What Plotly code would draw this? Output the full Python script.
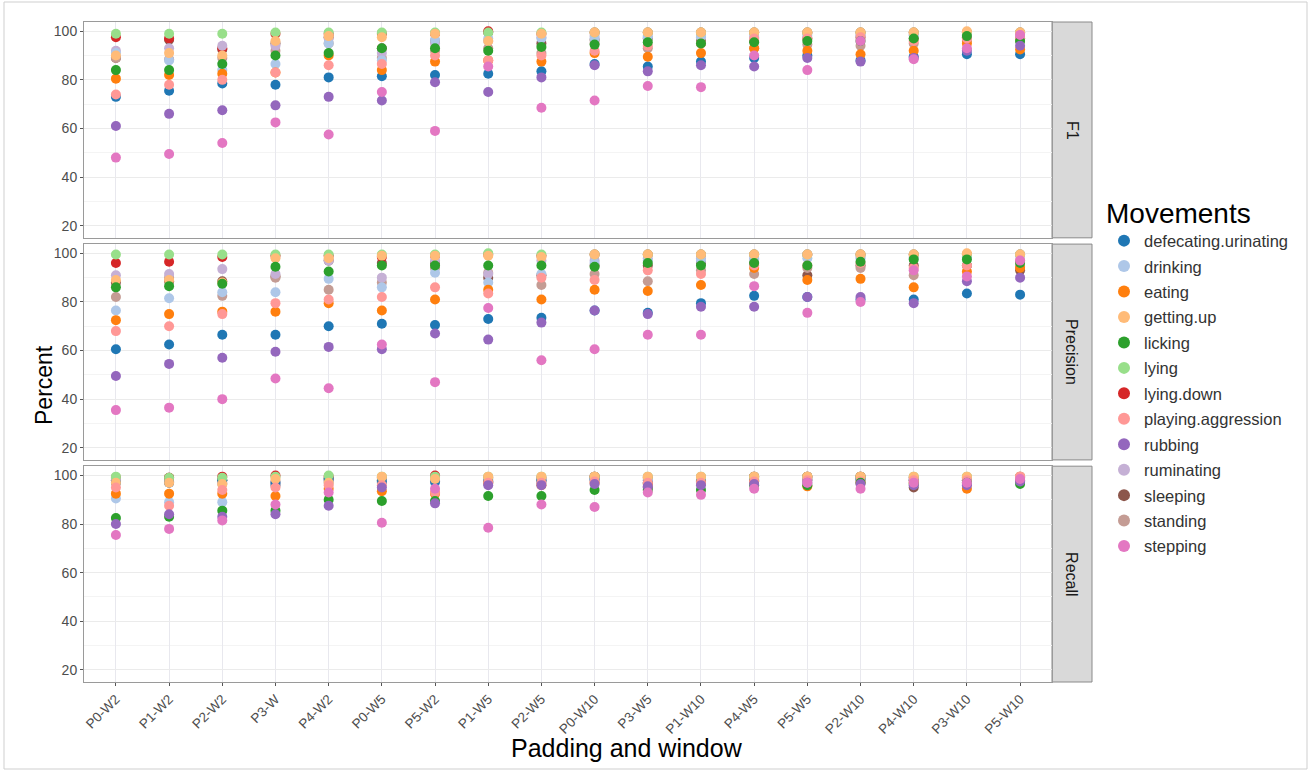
import plotly.graph_objects as go
from plotly.subplots import make_subplots

categories = ["P0-W2", "P1-W2", "P2-W2", "P3-W", "P4-W2", "P0-W5", "P5-W2", "P1-W5", "P2-W5",
              "P0-W10", "P3-W5", "P1-W10", "P4-W5", "P5-W5", "P2-W10", "P4-W10", "P3-W10", "P5-W10"]

movements = ["defecating.urinating", "drinking", "eating", "getting.up", "licking", "lying",
             "lying.down", "playing.aggression", "rubbing", "ruminating", "sleeping", "standing", "stepping"]

colors = ["#1f77b4", "#aec7e8", "#ff7f0e", "#ffbb78", "#2ca02c", "#98df8a",
          "#d62728", "#ff9896", "#9467bd", "#c5b0d5", "#8c564b", "#c49c94", "#e377c2"]

facets = ["F1", "Precision", "Recall"]

# ---- F1 ----
f1_defecating = [73, 75.5, 78.5, 78, 81, 81.5, 82, 82.5, 83.5, 86.5, 85.5, 87.5, 89, 90, 88, 89.5, 90.5, 90.5]
f1_drinking = [91, 88, 84, 86.5, 95, 88, 96.5, 97, 97, 97, 97.5, 97.5, 97.5, 98, 98, 98.5, 98.5, 99]
f1_eating = [80.5, 82, 82.5, 83, 90, 84, 87.5, 88, 87.5, 91, 89.5, 91, 93, 92, 90.5, 92, 95, 92.5]
f1_getting_up = [90, 91, 90, 96, 98, 97.5, 99, 96, 99, 99.5, 99.5, 99.5, 99.5, 99.5, 99.5, 99.5, 100, 99.5]
f1_licking = [84, 84, 86.5, 90, 91, 93, 93, 92, 93.5, 94.5, 95.5, 95, 95.5, 96, 96, 97, 98, 96]
f1_lying = [99, 99, 99, 99.5, 99.5, 99.5, 99.5, 99.5, 99.5, 99.5, 99.5, 99.5, 99.5, 99.5, 99.5, 99.5, 99.5, 99.5]
f1_lying_down = [97.5, 97, 93, 99, 99, 99, 99, 100, 99, 99.5, 99.5, 99.5, 99.5, 99.5, 99.5, 99.5, 99.5, 99.5]
f1_playing = [74, 78, 80, 83, 86, 86.5, 90, 88, 90, 92, 94, 95, 97, 97, 97.5, 96, 97, 97]
f1_rubbing = [61, 66, 67.5, 69.5, 73, 71.5, 79, 75, 81, 86, 83.5, 86, 85.5, 89, 87.5, 89, 92, 94]
f1_ruminating = [92, 93, 94, 94, 97, 91, 95, 96, 97.5, 98, 98, 98, 98, 99, 98.5, 98.5, 98.5, 99]
f1_sleeping = [89, 96.5, 92.5, 95, 97.5, 93, 96, 99.5, 95, 96.5, 97, 96, 96, 97, 97.5, 97, 97.5, 97]
f1_standing = [89, 88.5, 89, 92, 95, 89, 92, 93, 91, 95, 93, 95, 93, 94.5, 94, 95, 96, 96]
f1_stepping = [48, 49.5, 54, 62.5, 57.5, 75, 59, 85.5, 68.5, 71.5, 77.5, 77, 90, 84, 96, 88.5, 93, 98.5]

# ---- Precision ----
pr_defecating = [60.5, 62.5, 66.5, 66.5, 70, 71, 70.5, 73, 73.5, 76.5, 75.5, 79.5, 82.5, 82, 81, 81, 83.5, 83]
pr_drinking = [76.5, 81.5, 84, 84, 89.5, 86, 92, 88, 91.5, 96, 97, 97, 97.5, 98, 98, 98, 98.5, 99]
pr_eating = [72.5, 75, 76, 76, 79.5, 76.5, 81, 85, 81, 85, 84.5, 87, 94, 89, 89.5, 86, 92.5, 94]
pr_getting_up = [89, 89, 88, 98, 98, 99, 99, 99, 98.5, 99.5, 99.5, 99.5, 99.5, 99.5, 99.5, 99.5, 100, 99.5]
pr_licking = [86, 86.5, 87.5, 94.5, 92.5, 95, 95, 95, 95, 94.5, 96, 95, 96, 95, 96.5, 97.5, 97.5, 96]
pr_lying = [99.5, 99.5, 99.5, 99.5, 99.5, 99.5, 99.5, 100, 99.5, 99.5, 99.5, 99.5, 99.5, 99.5, 99.5, 99.5, 99.5, 99.5]
pr_lying_down = [96, 96.5, 98.5, 99, 99, 98.5, 99, 99.5, 99, 99.5, 99.5, 99.5, 99.5, 99.5, 99.5, 99.5, 99.5, 99.5]
pr_playing = [68, 70, 75, 79.5, 81, 82, 86, 83.5, 90, 89, 93, 91.5, 95, 95, 96, 94, 95, 97]
pr_rubbing = [49.5, 54.5, 57, 59.5, 61.5, 60.5, 67, 64.5, 71.5, 76.5, 75, 78, 78, 82, 82, 79.5, 88.5, 90]
pr_ruminating = [91, 91.5, 93.5, 91.5, 97, 90, 97, 91.5, 97, 97, 98, 98, 98, 99.5, 98.5, 98.5, 98.5, 99.5]
pr_sleeping = [88, 88.5, 88.5, 90.5, 97, 96, 96, 90, 91, 95, 95, 96, 96, 91, 95, 95, 95, 93]
pr_standing = [82, 90, 82.5, 90, 85, 88, 94, 92, 87, 91.5, 88.5, 93, 91.5, 94, 94, 91, 95, 94.5]
pr_stepping = [35.5, 36.5, 40, 48.5, 44.5, 62.5, 47, 77.5, 56, 60.5, 66.5, 66.5, 86.5, 75.5, 80, 93, 90.5, 97]

# ---- Recall ----
re_defecating = [97, 97, 98, 97, 98.5, 97.5, 97.5, 97.5, 98, 98.5, 97, 97.5, 98, 98, 98.5, 98, 98, 99]
re_drinking = [90.5, 89, 89, 96, 97, 97, 97, 98.5, 97, 98, 98, 98, 98.5, 99, 98.5, 98.5, 98.5, 99]
re_eating = [92.5, 92.5, 92.5, 91.5, 94.5, 93.5, 92.5, 97, 96, 97, 96.5, 97, 97.5, 95.5, 97, 97, 94.5, 98.5]
re_getting_up = [97, 97, 96.5, 98.5, 97, 99.5, 98.5, 99.5, 99.5, 99.5, 99.5, 99.5, 99.5, 99.5, 99.5, 99.5, 99.5, 99.5]
re_licking = [82.5, 83, 85.5, 85.5, 90, 89.5, 89.5, 91.5, 91.5, 94, 94, 94, 96, 96, 97, 96.5, 97, 96.5]
re_lying = [99.5, 99, 99, 99.5, 100, 99.5, 99.5, 99.5, 99.5, 99.5, 99.5, 99.5, 99.5, 99.5, 99.5, 99.5, 99.5, 99.5]
re_lying_down = [99, 99, 99.5, 100, 99.5, 99, 100, 99, 99, 99.5, 99, 99, 99.5, 99.5, 99.5, 99, 99, 99.5]
re_playing = [95, 87.5, 94, 95, 96, 96, 93, 97, 97, 97.5, 97, 97, 97.5, 98, 97.5, 98, 98, 99.5]
re_rubbing = [80, 84, 83, 84, 87.5, 95, 88.5, 96, 96, 96.5, 95.5, 96, 96.5, 97, 96.5, 96, 96, 97.5]
re_ruminating = [98, 97, 97, 97, 98, 98, 98, 98, 98.5, 98.5, 98, 98.5, 98.5, 98.5, 98.5, 98.5, 98.5, 99]
re_sleeping = [98, 99, 98, 96, 98.5, 98, 99, 97, 97.5, 99.5, 95, 97, 99.5, 99.5, 99.5, 95, 96.5, 98]
re_standing = [98.5, 97.5, 96.5, 97.5, 97.5, 97, 97.5, 97.5, 98, 98, 97, 97.5, 98.5, 98.5, 98, 98, 98, 98.5]
re_stepping = [75.5, 78, 81.5, 88, 93, 80.5, 94.5, 78.5, 88, 87, 93, 92, 94.5, 97, 94.5, 97, 97, 98.5]

f1_values = [f1_defecating, f1_drinking, f1_eating, f1_getting_up, f1_licking, f1_lying, f1_lying_down,
             f1_playing, f1_rubbing, f1_ruminating, f1_sleeping, f1_standing, f1_stepping]
pr_values = [pr_defecating, pr_drinking, pr_eating, pr_getting_up, pr_licking, pr_lying, pr_lying_down,
             pr_playing, pr_rubbing, pr_ruminating, pr_sleeping, pr_standing, pr_stepping]
re_values = [re_defecating, re_drinking, re_eating, re_getting_up, re_licking, re_lying, re_lying_down,
             re_playing, re_rubbing, re_ruminating, re_sleeping, re_standing, re_stepping]
facet_values = [f1_values, pr_values, re_values]

# drawing order (bottom to top); legend keeps the alphabetical order via legendrank
draw_order = [10, 6, 11, 9, 1, 0, 2, 5, 3, 7, 4, 8, 12]

FONT = "Liberation Sans, Arial, sans-serif"

fig = make_subplots(rows=3, cols=1, shared_xaxes=True, vertical_spacing=0.0095)

for r, vals in enumerate(facet_values, start=1):
    for i in draw_order:
        name = movements[i]
        fig.add_trace(go.Scatter(
            x=categories, y=vals[i], mode="markers", name=name,
            legendgroup=name, showlegend=(r == 1), legendrank=100 + i,
            marker=dict(color=colors[i], size=10, line=dict(width=0)),
        ), row=r, col=1)

for r in range(1, 4):
    fig.update_yaxes(
        range=[15, 103.8], tickvals=[20, 40, 60, 80, 100],
        showgrid=True, gridcolor="#EBEBEB", gridwidth=1,
        minor=dict(tickvals=[30, 50, 70, 90], showgrid=True, gridcolor="#F4F4F4", ticklen=0),
        ticks="outside", ticklen=3, tickcolor="#555555",
        tickfont=dict(family=FONT, size=14, color="#4D4D4D"),
        showline=True, linecolor="#9A9A9A", linewidth=1, mirror=True,
        zeroline=False, row=r, col=1)
    fig.update_xaxes(
        type="category", categoryorder="array", categoryarray=categories,
        range=[-0.6, 17.6], showgrid=True, gridcolor="#E8E8EE", gridwidth=1,
        showline=True, linecolor="#9A9A9A", linewidth=1, mirror=True,
        zeroline=False, row=r, col=1)

fig.update_xaxes(ticks="outside", ticklen=3, tickcolor="#555555", tickangle=-45,
                 tickfont=dict(family=FONT, size=13.5, color="#4D4D4D"), row=3, col=1)

# facet strips
strip_x1 = (1092 - 84) / 968
shapes = []
annotations = []
for r, name in enumerate(facets, start=1):
    dom = fig.layout[f"yaxis{'' if r == 1 else r}"].domain
    shapes.append(dict(type="rect", xref="paper", yref="paper", x0=1.0, x1=strip_x1,
                       y0=dom[0], y1=dom[1], fillcolor="#D9D9D9",
                       line=dict(color="#8A8A8A", width=1), layer="below"))
    annotations.append(dict(text=name, xref="paper", yref="paper", x=(1.0 + strip_x1) / 2,
                            y=(dom[0] + dom[1]) / 2, showarrow=False, textangle=90,
                            xanchor="center", yanchor="middle",
                            font=dict(family=FONT, size=16, color="#1A1A1A")))

# outer frame
shapes.append(dict(type="rect", xref="paper", yref="paper",
                   x0=(4 - 84) / 968, x1=(1307 - 84) / 968,
                   y0=(682 - 769) / 660, y1=(682 - 2) / 660,
                   line=dict(color="#CFCFCF", width=1), fillcolor="rgba(0,0,0,0)", layer="below"))

annotations.append(dict(text="Percent", xref="paper", yref="paper", x=(44 - 84) / 968,
                        y=(682 - 385) / 660, showarrow=False, textangle=-90,
                        xanchor="center", yanchor="middle",
                        font=dict(family=FONT, size=23, color="#000000")))
annotations.append(dict(text="Padding and window", xref="paper", yref="paper",
                        x=(627 - 84) / 968, y=(682 - 748) / 660, showarrow=False,
                        xanchor="center", yanchor="middle",
                        font=dict(family=FONT, size=25, color="#000000")))

fig.update_layout(
    width=1312, height=771,
    margin=dict(l=84, r=260, t=22, b=89),
    paper_bgcolor="white", plot_bgcolor="white",
    shapes=shapes, annotations=annotations,
    legend=dict(
        title=dict(text="Movements", font=dict(family=FONT, size=28, color="#000000")),
        font=dict(family=FONT, size=16.5, color="#333333"),
        x=(1104 - 84) / 968, xanchor="left", y=(682 - 187) / 660, yanchor="top",
        tracegroupgap=1, itemsizing="constant", bgcolor="rgba(0,0,0,0)",
    ),
    font=dict(family=FONT),
)

fig.write_html("out.html", config={"displayModeBar": False},
               post_script="document.body.style.margin='0px';")
